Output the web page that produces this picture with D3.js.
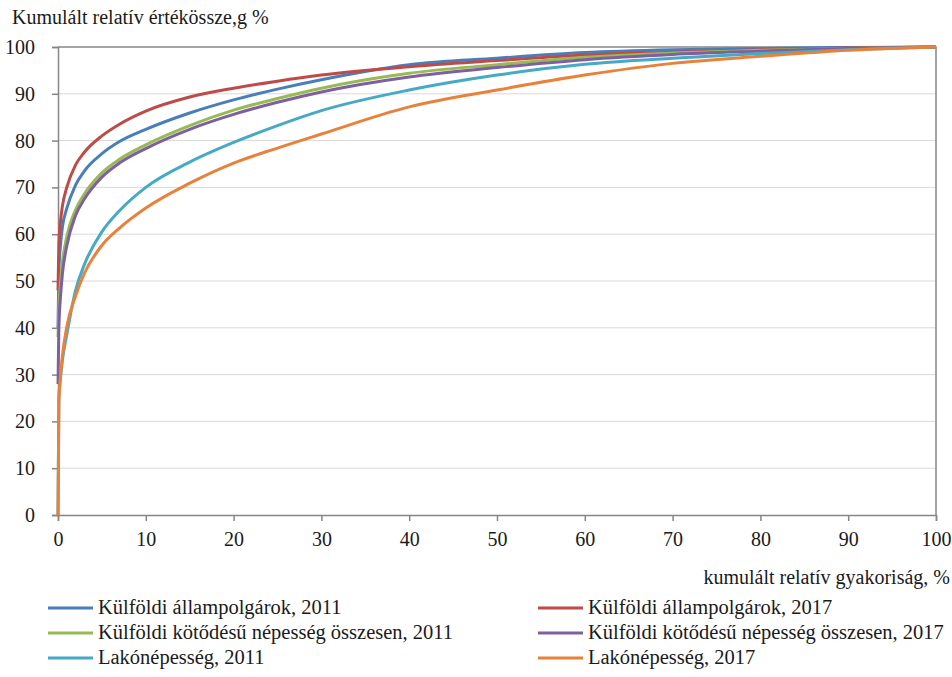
<!DOCTYPE html>
<html>
<head>
<meta charset="utf-8">
<script src="https://cdn.jsdelivr.net/npm/d3@7"></script>
<style>
  body { margin: 0; background: #fff; }
  text { font-family: "Liberation Serif", "DejaVu Serif", serif; fill: #1a1a1a; }
</style>
</head>
<body>
<div id="viz"></div>
<script>
const xTicks = [0, 10, 20, 30, 40, 50, 60, 70, 80, 90, 100];
const yTicks = [0, 10, 20, 30, 40, 50, 60, 70, 80, 90, 100];

const seriesNames = [
  "Külföldi állampolgárok, 2011",
  "Külföldi állampolgárok, 2017",
  "Külföldi kötődésű népesség összesen, 2011",
  "Külföldi kötődésű népesség összesen, 2017",
  "Lakónépesség, 2011",
  "Lakónépesség, 2017",
];
const seriesColors = ["#4A7EBB", "#BE4B48", "#98B954", "#7D60A0", "#46AAC5", "#E8823A"];

// cumulative frequency (%) where the curves were read
const xPoints = [0, 0.1, 0.3, 0.5, 1, 2, 3, 5, 7, 10, 15, 20, 25, 30, 40, 50, 60, 70, 80, 90, 100];

const citizens2011 = [40, 52, 58, 61.5, 65.5, 70.5, 73.5, 77.2, 79.8, 82.4, 85.9, 88.7, 91.0, 93.0, 96.2, 97.6, 98.8, 99.4, 99.7, 99.9, 100];
const citizens2017 = [48, 58, 63, 66, 70, 74.8, 77.5, 81.0, 83.5, 86.3, 89.3, 91.2, 92.7, 94.0, 95.8, 97.1, 98.3, 98.9, 99.4, 99.8, 100];
const origin2011 = [38, 44, 50, 54, 59.5, 65.2, 68.6, 73.1, 76.0, 79.1, 83.2, 86.5, 89.0, 91.2, 94.4, 96.2, 97.8, 98.7, 99.3, 99.7, 100];
const origin2017 = [28, 40, 47, 51.5, 57.5, 64, 67.5, 72.2, 75.2, 78.3, 82.4, 85.6, 88.2, 90.4, 93.6, 95.6, 97.3, 98.4, 99.1, 99.7, 100];
const resident2011 = [0, 25, 29.5, 33, 38.5, 48, 53.5, 60.5, 65.0, 70.0, 75.4, 79.6, 83.2, 86.4, 90.8, 94.0, 96.3, 97.6, 98.6, 99.4, 100];
const resident2017 = [0, 24, 30, 34, 40.2, 46.8, 51.6, 57.6, 61.3, 65.6, 70.9, 75.2, 78.4, 81.4, 87.2, 90.8, 94.0, 96.5, 98.0, 99.3, 100];

const seriesValues = [citizens2011, citizens2017, origin2011, origin2017, resident2011, resident2017];

const config = {
  width: 952,
  height: 677,
  left: 58,
  right: 936,
  top: 47,
  bottom: 515,
  fontSize: 20,
  legendFontSize: 20.5,
  axisColor: "#868686",
  gridColor: "#D9D9D9",
};

const svg = d3
  .select("#viz")
  .append("svg")
  .attr("width", config.width)
  .attr("height", config.height);

const x = d3.scaleLinear().domain([0, 100]).range([config.left, config.right]);
const y = d3.scaleLinear().domain([0, 100]).range([config.bottom, config.top]);

// gridlines
svg
  .append("g")
  .selectAll("line")
  .data(yTicks.filter((d) => d > 0 && d < 100))
  .join("line")
  .attr("x1", config.left)
  .attr("x2", config.right)
  .attr("y1", (d) => y(d))
  .attr("y2", (d) => y(d))
  .attr("stroke", config.gridColor)
  .attr("stroke-width", 1);

// frame (top and right)
svg
  .append("path")
  .attr("d", `M${config.left},${config.top}H${config.right}V${config.bottom}`)
  .attr("fill", "none")
  .attr("stroke", config.axisColor)
  .attr("stroke-width", 1.5);

// y axis
const yAxis = svg
  .append("g")
  .attr("transform", `translate(${config.left},0)`)
  .call(d3.axisLeft(y).tickValues(yTicks).tickSize(6).tickPadding(17));
yAxis.select(".domain").attr("stroke", config.axisColor).attr("stroke-width", 1.5);
yAxis.selectAll(".tick line").attr("stroke", config.axisColor).attr("stroke-width", 1.5);
yAxis
  .selectAll(".tick text")
  .attr("font-size", config.fontSize)
  .attr("font-family", "Liberation Serif, serif")
  .attr("fill", "#1a1a1a");

// x axis
const xAxis = svg
  .append("g")
  .attr("transform", `translate(0,${config.bottom})`)
  .call(d3.axisBottom(x).tickValues(xTicks).tickSize(6).tickPadding(11));
xAxis.select(".domain").attr("stroke", config.axisColor).attr("stroke-width", 1.5);
xAxis.selectAll(".tick line").attr("stroke", config.axisColor).attr("stroke-width", 1.5);
xAxis
  .selectAll(".tick text")
  .attr("font-size", config.fontSize)
  .attr("font-family", "Liberation Serif, serif")
  .attr("fill", "#1a1a1a");

// axis titles
svg
  .append("text")
  .attr("x", 12)
  .attr("y", 24)
  .attr("font-size", config.fontSize)
  .text("Kumulált relatív értékössze,g %");

svg
  .append("text")
  .attr("x", 950)
  .attr("y", 584)
  .attr("text-anchor", "end")
  .attr("font-size", config.fontSize)
  .text("kumulált relatív gyakoriság, %");

// curves
const line = d3
  .line()
  .x((d) => x(d[0]))
  .y((d) => y(d[1]))
  .curve(d3.curveMonotoneX);

seriesValues.forEach((values, i) => {
  svg
    .append("path")
    .datum(xPoints.map((xv, j) => [xv, values[j]]))
    .attr("fill", "none")
    .attr("stroke", seriesColors[i])
    .attr("stroke-width", 3)
    .attr("stroke-linejoin", "round")
    .attr("d", line);
});

// legend
const legend = svg.append("g");
seriesNames.forEach((name, i) => {
  const col = i % 2;
  const row = Math.floor(i / 2);
  const lx = col === 0 ? 48 : 538;
  const ly = 608 + row * 25;
  legend
    .append("line")
    .attr("x1", lx)
    .attr("x2", lx + 45)
    .attr("y1", ly)
    .attr("y2", ly)
    .attr("stroke", seriesColors[i])
    .attr("stroke-width", 3);
  legend
    .append("text")
    .attr("x", lx + 50)
    .attr("y", ly + 6)
    .attr("font-size", config.legendFontSize)
    .text(name);
});
</script>
</body>
</html>
